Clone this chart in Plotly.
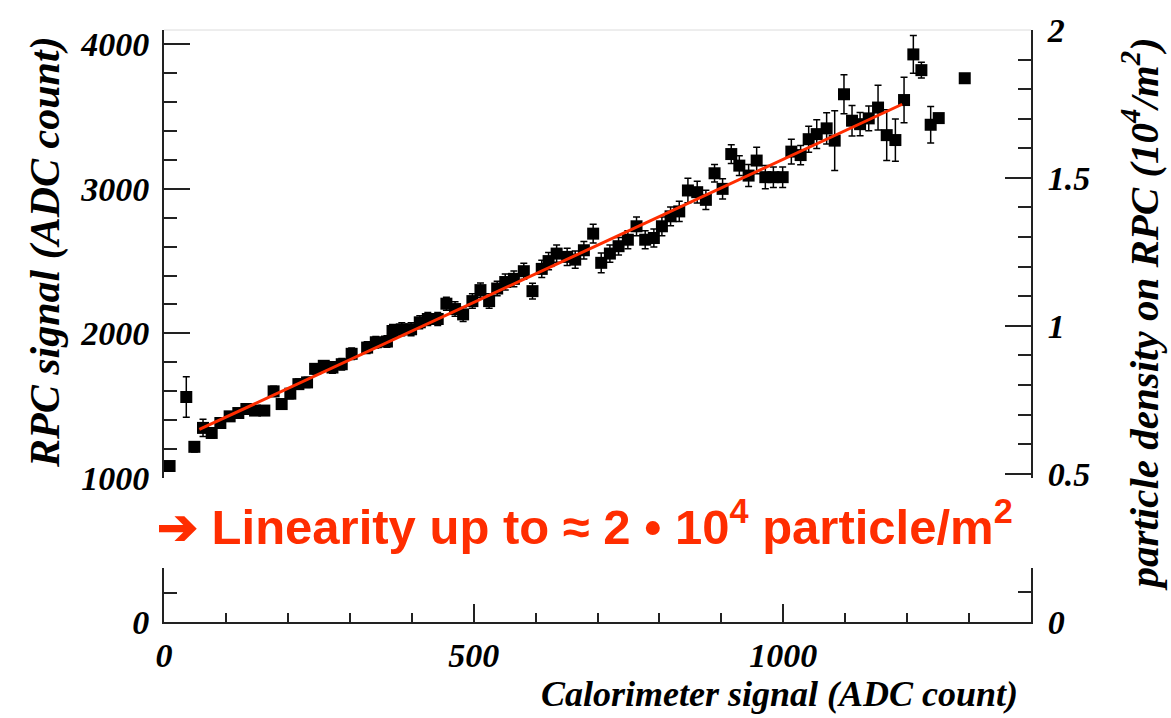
import plotly.graph_objects as go

# ---- data ----
calo_signal = [9, 36, 49, 63, 77, 91, 106, 120, 133, 147, 162, 177, 190, 204, 217, 231, 244, 258, 272, 287,
               303, 328, 342, 360, 369, 384, 399, 413, 426, 442, 456, 470, 483, 498, 511, 525, 538, 551, 565, 581,
               595, 610, 621, 634, 651, 664, 678, 693, 706, 720, 734, 749, 763, 777, 791, 804, 818, 832, 846, 861,
               875, 889, 902, 916, 929, 944, 957, 971, 984, 999, 1013, 1028, 1041, 1054, 1070, 1083, 1098, 1111,
               1124, 1138, 1153, 1167, 1181, 1195, 1210, 1223, 1238, 1251, 1293]
rpc_signal = [1081, 1559, 1214, 1345, 1310, 1379, 1425, 1448, 1476, 1465, 1465, 1598, 1510, 1582, 1648, 1660,
              1754, 1775, 1763, 1786, 1858, 1901, 1938, 1943, 2016, 2028, 2028, 2076, 2099, 2099, 2205, 2168,
              2131, 2223, 2299, 2223, 2310, 2355, 2377, 2430, 2292, 2446, 2500, 2552, 2529, 2510, 2575, 2690,
              2488, 2552, 2603, 2648, 2741, 2648, 2660, 2741, 2810, 2844, 2989, 2977, 2924, 3108, 3000, 3241,
              3161, 3092, 3196, 3081, 3081, 3081, 3258, 3234, 3344, 3379, 3419, 3334, 3655, 3472, 3448, 3488,
              3563, 3372, 3338, 3615, 3931, 3822, 3444, 3490, 3766]
rpc_error = [20, 140, 35, 60, 35, 30, 30, 30, 30, 30, 30, 35, 35, 35, 35, 35, 35, 35, 40, 40,
             40, 40, 40, 40, 45, 45, 45, 45, 45, 45, 45, 50, 50, 50, 50, 50, 50, 55, 55, 55,
             55, 60, 60, 60, 60, 60, 60, 65, 68, 60, 60, 62, 65, 62, 62, 65, 65, 70, 85, 75,
             67, 60, 70, 65, 69, 76, 92, 80, 71, 71, 85, 67, 90, 99, 108, 207, 135, 106,
             80, 85, 155, 175, 146, 157, 131, 55, 126, 30, 0]

fit_range = [57, 1192]
fit_p0 = 1221.0
fit_p1 = 1.984

left_major = [1000, 2000, 3000, 4000]
x_major = [0, 500, 1000]

# ---- styling ----
AX = "#222222"
SERIF = dict(family="Liberation Serif, Times New Roman, serif", size=34, color="black",
             weight="bold", style="italic")
RED = "#ff2d00"

fig = go.Figure()

fig.add_trace(go.Scatter(
    x=calo_signal, y=rpc_signal, mode="markers",
    marker=dict(symbol="square", size=12, color="black"),
    error_y=dict(type="data", array=rpc_error, visible=True, color="black", thickness=1.5, width=3.5),
    cliponaxis=False, xaxis="x", yaxis="y", showlegend=False))

fit_x = fit_range
fit_y = [fit_p0 + fit_p1 * v for v in fit_x]
fig.add_trace(go.Scatter(x=fit_x, y=fit_y, mode="lines", line=dict(color=RED, width=3),
                         xaxis="x", yaxis="y", showlegend=False))

# invisible traces so that the secondary axes exist
fig.add_trace(go.Scatter(x=[None], y=[None], xaxis="x", yaxis="y2", showlegend=False))
fig.add_trace(go.Scatter(x=[None], y=[None], xaxis="x", yaxis="y3", showlegend=False))
fig.add_trace(go.Scatter(x=[None], y=[None], xaxis="x", yaxis="y4", showlegend=False))

common_y = dict(showline=True, linecolor=AX, linewidth=2, ticks="inside", tickcolor=AX, tickwidth=1.5,
                showgrid=False, zeroline=False, tickfont=SERIF, fixedrange=True)

top_dom = [0.2437, 1.0]
bot_dom = [0.0, 0.0908]

fig.update_layout(
    width=1171, height=718,
    margin=dict(l=164, r=140, t=27, b=96),
    paper_bgcolor="white", plot_bgcolor="white",
    showlegend=False,
    xaxis=dict(range=[0, 1400], domain=[0, 1], anchor="y3", showline=True, linecolor=AX, linewidth=2,
               ticks="inside", ticklen=18, tickwidth=1.5, tickcolor=AX, tickvals=x_major,
               minor=dict(dtick=100, ticklen=9, ticks="inside", tickcolor=AX, tickwidth=1.5),
               showgrid=False, zeroline=False, tickfont=SERIF, ticklabelstandoff=2),
    yaxis=dict(domain=top_dom, range=[1000, 4100], anchor="x", side="left", tickvals=left_major,
               ticklen=26, minor=dict(dtick=200, ticklen=13, ticks="inside", tickcolor=AX, tickwidth=1.5),
               ticklabelstandoff=6, **common_y),
    yaxis2=dict(overlaying="y", range=[0.4865, 2.0], anchor="x", side="right", dtick=0.5, tick0=0,
                ticklen=26, minor=dict(dtick=0.1, ticklen=13, ticks="inside", tickcolor=AX, tickwidth=1.5),
                ticklabelstandoff=8, **common_y),
    yaxis3=dict(domain=bot_dom, range=[0, 372], anchor="x", side="left", tickvals=[0],
                ticklen=26, minor=dict(dtick=200, ticklen=13, ticks="inside", tickcolor=AX, tickwidth=1.5),
                ticklabelstandoff=6, **common_y),
    yaxis4=dict(overlaying="y3", range=[0, 0.1816], anchor="x", side="right", tickvals=[0],
                ticklen=26, minor=dict(dtick=0.1, ticklen=13, ticks="inside", tickcolor=AX, tickwidth=1.5),
                ticklabelstandoff=8, **common_y),
)

# faint top frame line
fig.add_shape(type="line", xref="paper", yref="paper", x0=0, x1=1, y0=1.0, y1=1.0,
              line=dict(color="#dcdcdc", width=1))

TITLE_FONT = dict(family="Liberation Serif, Times New Roman, serif", color="black", weight="bold", style="italic")

fig.add_annotation(text="RPC signal (ADC count)", xref="paper", yref="paper", x=-0.1373, y=0.625,
                   textangle=-90, showarrow=False, xanchor="center", yanchor="middle",
                   font=dict(size=42, **TITLE_FONT))
fig.add_annotation(text="particle density on RPC (10<sup>4</sup>/m<sup>2</sup>)", xref="paper", yref="paper",
                   x=1.1257, y=0.521, textangle=-90, showarrow=False, xanchor="center", yanchor="middle",
                   font=dict(size=41, **TITLE_FONT))
fig.add_annotation(text="Calorimeter signal (ADC count)", xref="paper", yref="paper", x=0.9873, y=-0.121,
                   showarrow=False, xanchor="right", yanchor="middle", font=dict(size=36, **TITLE_FONT))
fig.add_annotation(text="➔ Linearity up to ≈ 2 • 10<sup>4</sup> particle/m<sup>2</sup>", xref="paper",
                   yref="paper", x=0.4856, y=0.168, showarrow=False, xanchor="center", yanchor="middle",
                   font=dict(family="Liberation Sans Narrow, Arial Narrow, Liberation Sans, Arial, sans-serif",
                             size=49, color=RED, weight="bold"))

fig.write_html("out.html")
